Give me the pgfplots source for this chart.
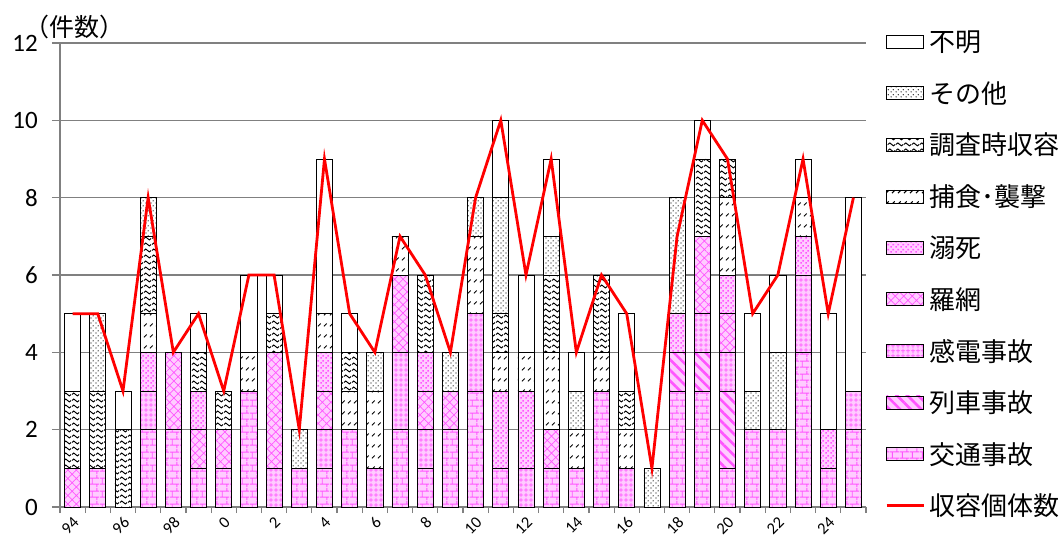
\documentclass[border=0pt]{standalone}
\usepackage{fontspec}
\setmainfont{Carlito}
\newfontfamily\cjk{Noto Sans CJK JP}
\usepackage{pgfplots}
\pgfplotsset{compat=1.18}
\usepackage{pgfplotstable}
\usetikzlibrary{patterns.meta,calc}

\definecolor{pbg}{HTML}{FFCCFF}
\definecolor{pln}{HTML}{FF55FF}

\tikzdeclarepattern{name=mybricks, type=uncolored,
  bounding box={(0pt,0pt) and (10pt,13pt)}, tile size={(10pt,13pt)},
  code={\draw[line width=1pt] (0pt,3pt) -- (10pt,3pt) (0pt,9.5pt) -- (10pt,9.5pt)
        (2.5pt,3pt) -- (2.5pt,9.5pt) (7.5pt,9.5pt) -- (7.5pt,13pt) (7.5pt,0pt) -- (7.5pt,3pt);}}
\tikzdeclarepattern{name=mygrid, type=uncolored,
  bounding box={(0pt,0pt) and (4.5pt,4.5pt)}, tile size={(4.5pt,4.5pt)},
  code={\draw[line width=0.8pt] (0pt,2.25pt) -- (4.5pt,2.25pt) (2.25pt,0pt) -- (2.25pt,4.5pt);}}
\tikzdeclarepattern{name=mysq, type=uncolored,
  bounding box={(0pt,0pt) and (5pt,5pt)}, tile size={(5pt,5pt)},
  code={\fill (0.4pt,0.4pt) rectangle (2.2pt,2.2pt); \fill (2.9pt,2.9pt) rectangle (4.7pt,4.7pt);}}
\tikzdeclarepattern{name=mydots, type=uncolored,
  bounding box={(0pt,0pt) and (5pt,5pt)}, tile size={(5pt,5pt)},
  code={\fill (1.25pt,1.25pt) circle (0.75pt); \fill (3.75pt,3.75pt) circle (0.75pt);}}
\tikzdeclarepattern{name=mywave, type=uncolored,
  bounding box={(0pt,0pt) and (8pt,5.5pt)}, tile size={(8pt,5.5pt)},
  code={\draw[line width=1.05pt] (0pt,2.75pt) sin (2pt,4.3pt) cos (4pt,2.75pt) sin (6pt,1.2pt) cos (8pt,2.75pt);}}
\tikzdeclarepattern{name=myslash, type=uncolored,
  bounding box={(0pt,0pt) and (5.5pt,11pt)}, tile size={(5.5pt,11pt)},
  code={\draw[line width=1.1pt] (1pt,4pt) -- (4pt,7pt);}}

\pgfplotsset{
  mybarleg/.style={legend image code/.code={\draw[##1] (0pt,-6.5pt) rectangle (37pt,6.5pt);}},
  mylineleg/.style={legend image code/.code={\draw[##1] (0pt,0pt) -- (37pt,0pt);}},
  mybase/.style={draw=black, line width=0.7pt},
  sko/.style={mybase, preaction={fill=pbg}, pattern=mybricks, pattern color=pln},
  sre/.style={mybase, preaction={fill=pbg}, pattern={Lines[angle=-45,distance=7.5pt,line width=2.6pt]}, pattern color=pln},
  ska/.style={mybase, preaction={fill=pbg}, pattern=mygrid, pattern color=pln},
  sra/.style={mybase, preaction={fill=pbg}, pattern={Hatch[angle=45,distance=6pt,line width=0.7pt]}, pattern color=pln},
  sde/.style={mybase, preaction={fill=pbg}, pattern=mysq, pattern color=pln},
  sho/.style={mybase, preaction={fill=white}, pattern=myslash, pattern color=black},
  sch/.style={mybase, preaction={fill=white}, pattern=mywave, pattern color=black},
  sso/.style={mybase, preaction={fill=white}, pattern=mydots, pattern color=black},
  sfu/.style={mybase, fill=white},
}

\pgfplotstableread{
x  ko re ka ra de ho ch so fu tot
0  0  0  0  1  0  0  2  0  2  5
1  1  0  0  0  0  0  2  2  0  5
2  0  0  0  0  0  0  2  0  1  3
3  2  0  1  0  1  1  2  1  0  8
4  2  0  0  2  0  0  0  0  0  4
5  1  0  0  1  1  0  1  0  1  5
6  1  0  0  1  0  0  1  0  0  3
7  3  0  0  0  0  1  0  0  2  6
8  0  0  1  3  0  0  1  0  1  6
9  1  0  0  0  0  0  0  1  0  2
10 1  0  1  1  1  1  0  0  4  9
11 2  0  0  0  0  1  1  0  1  5
12 0  0  1  0  0  2  0  1  0  4
13 2  0  2  2  0  1  0  0  0  7
14 1  0  1  1  1  0  2  0  0  6
15 2  0  0  1  0  0  0  1  0  4
16 3  0  2  0  0  2  0  1  0  8
17 1  0  0  0  2  1  1  3  2  10
18 0  0  1  0  2  1  0  0  2  6
19 1  0  0  1  0  2  2  1  2  9
20 1  0  0  0  0  1  0  1  1  4
21 3  0  0  0  0  1  2  0  0  6
22 0  0  1  0  0  1  1  0  2  5
23 0  0  0  0  0  0  0  1  0  1
24 3  1  0  0  1  0  0  3  0  7
25 3  1  1  2  0  0  2  0  1  10
26 1  2  1  1  1  2  1  0  0  9
27 2  0  0  0  0  0  0  1  2  5
28 2  0  0  0  0  0  0  2  2  6
29 4  0  2  0  1  1  0  0  1  9
30 1  0  0  0  1  0  0  0  3  5
31 2  0  1  0  0  0  0  0  5  8
}\data

\begin{document}
\begin{tikzpicture}
\begin{axis}[name=A,
  scale only axis, width=806pt, height=464pt,
  xmin=-0.5, xmax=31.5, ymin=0, ymax=12, enlargelimits=false,
  ybar stacked, bar width=0.64,
  axis x line*=bottom, axis y line*=left,
  axis line style={gray, line width=1.2pt},
  tick align=outside,
  tick style={gray, line width=1.2pt},
  major tick length=8pt, minor tick length=6pt,
  ytick={0,2,...,12},
  ymajorgrids, major grid style={gray, line width=1.2pt},
  xtick={0,2,...,30},
  xticklabels={94,96,98,0,2,4,6,8,10,12,14,16,18,20,22,24},
  major x tick style={draw=none},
  minor xtick={-0.5,0.5,...,31.5},
  /pgf/number format/assume math mode=true,
  yticklabel style={font=\fontsize{25}{27}\selectfont, inner sep=2pt, xshift=-12pt},
  xticklabel style={font=\fontsize{16.5}{18}\selectfont, rotate=45, anchor=north east, inner sep=0.5pt, xshift=0pt, yshift=0.5pt},
  legend style={draw=none, fill=none, at={(1,1)}, anchor=north west, xshift=16pt, yshift=16pt,
    font=\cjk\fontsize{26}{28}\selectfont, row sep=24.2pt, column sep=2pt},
  legend cell align=left,
]
\addplot[sko, forget plot] table[x=x,y=ko]{\data};
\addplot[sre, forget plot] table[x=x,y=re]{\data};
\addplot[ska, forget plot] table[x=x,y=ka]{\data};
\addplot[sra, forget plot] table[x=x,y=ra]{\data};
\addplot[sde, forget plot] table[x=x,y=de]{\data};
\addplot[sho, forget plot] table[x=x,y=ho]{\data};
\addplot[sch, forget plot] table[x=x,y=ch]{\data};
\addplot[sso, forget plot] table[x=x,y=so]{\data};
\addplot[sfu, forget plot] table[x=x,y=fu]{\data};
\addlegendimage{mybarleg, sfu}\addlegendentry{不明}
\addlegendimage{mybarleg, sso}\addlegendentry{その他}
\addlegendimage{mybarleg, sch}\addlegendentry{調査時収容}
\addlegendimage{mybarleg, sho}\addlegendentry{捕食･襲撃}
\addlegendimage{mybarleg, sde}\addlegendentry{溺死}
\addlegendimage{mybarleg, sra}\addlegendentry{羅網}
\addlegendimage{mybarleg, ska}\addlegendentry{感電事故}
\addlegendimage{mybarleg, sre}\addlegendentry{列車事故}
\addlegendimage{mybarleg, sko}\addlegendentry{交通事故}
\addlegendimage{mylineleg, red, line width=2.8pt}\addlegendentry{収容個体数}
\end{axis}
\begin{axis}[
  scale only axis, width=806pt, height=464pt,
  xmin=-0.5, xmax=31.5, ymin=0, ymax=12, enlargelimits=false,
  axis lines=none, clip=false,
]
\addplot[red, line width=2.8pt, sharp plot, mark=none] table[x=x,y=tot]{\data};
\end{axis}
\node[anchor=west, font=\cjk\fontsize{25}{27}\selectfont, inner sep=0pt] at ([xshift=-36pt,yshift=16pt]A.north west) {（件数）};
\pgfresetboundingbox
\path ($(A.south west)+(-60pt,-31pt)$) rectangle ($(A.north east)+(195pt,43pt)$);
\end{tikzpicture}
\end{document}
